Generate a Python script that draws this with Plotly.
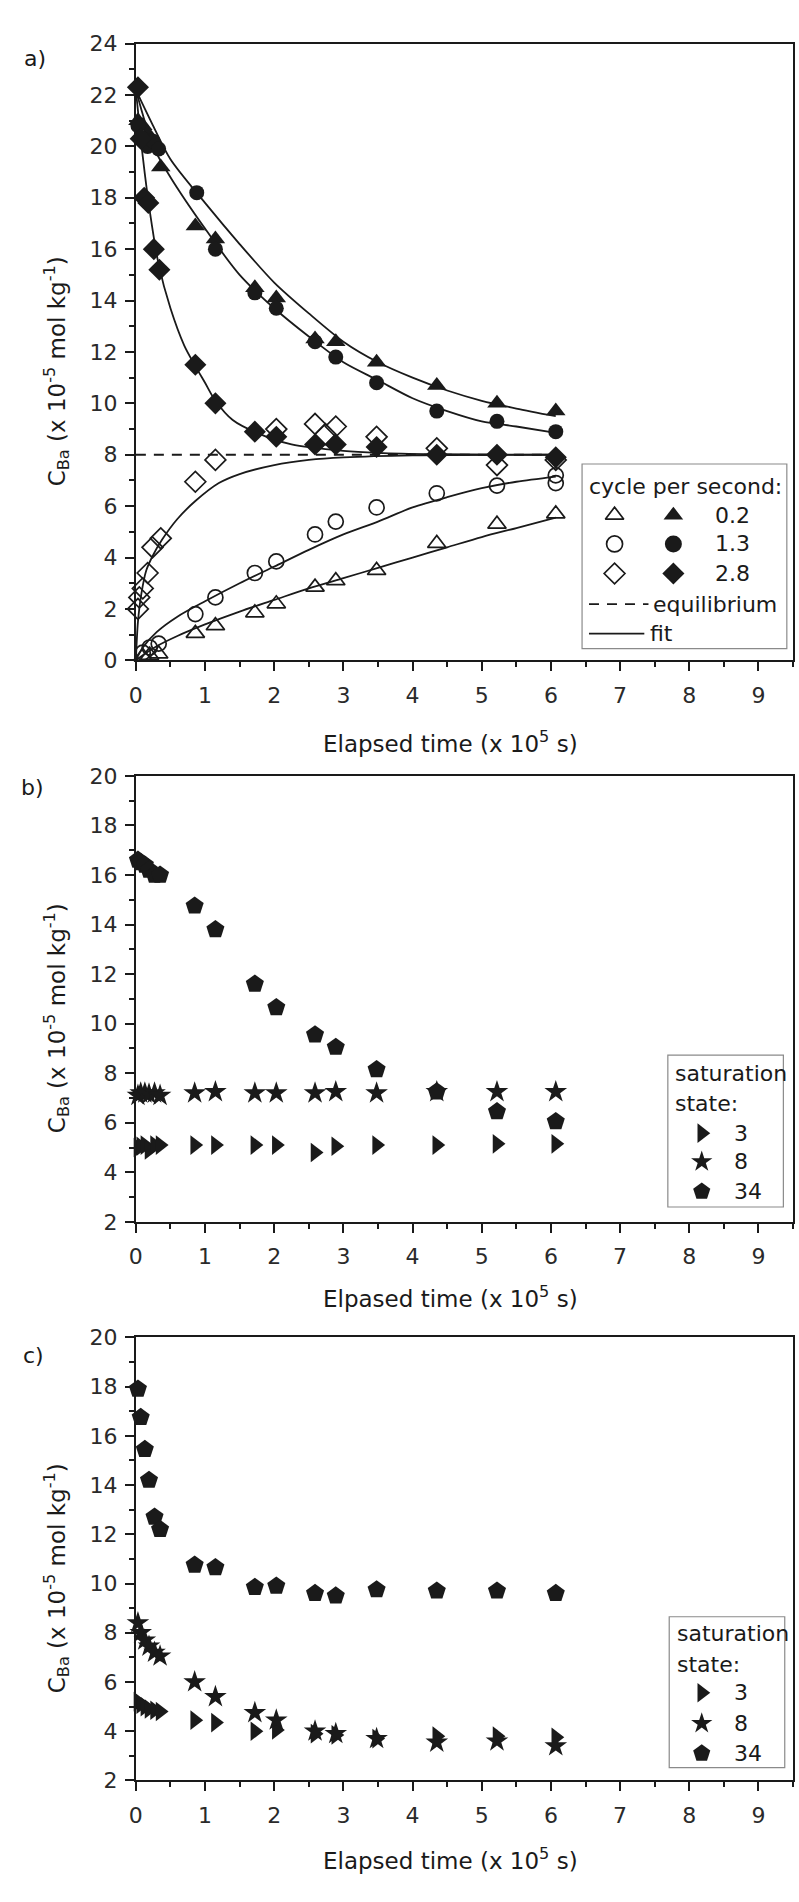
import plotly.graph_objects as go

W, H = 799, 1902
FONT = "DejaVu Sans"
INK = "#1a1a1a"

# ---------------- data: panel a ----------------
t_a_fill_tri = [0.03, 0.10, 0.17, 0.25, 0.36, 0.86, 1.15, 1.72, 2.03, 2.59, 2.89, 3.48, 4.35, 5.22, 6.07]
c_a_fill_tri = [21.0, 20.8, 20.5, 20.0, 19.2, 16.9, 16.4, 14.5, 14.1, 12.5, 12.4, 11.6, 10.7, 10.0, 9.7]
t_a_fill_cir = [0.03, 0.10, 0.17, 0.25, 0.33, 0.88, 1.15, 1.72, 2.03, 2.59, 2.89, 3.48, 4.35, 5.22, 6.07]
c_a_fill_cir = [20.8, 20.3, 20.0, 20.2, 19.9, 18.2, 16.0, 14.3, 13.7, 12.4, 11.8, 10.8, 9.7, 9.3, 8.9]
t_a_fill_dia = [0.03, 0.07, 0.12, 0.18, 0.26, 0.34, 0.86, 1.15, 1.72, 2.03, 2.59, 2.89, 3.48, 4.35, 5.22, 6.07]
c_a_fill_dia = [22.3, 20.3, 18.0, 17.8, 16.0, 15.2, 11.5, 10.0, 8.9, 8.7, 8.4, 8.4, 8.3, 8.0, 8.0, 7.9]

t_a_open_tri = [0.10, 0.20, 0.33, 0.86, 1.15, 1.72, 2.03, 2.59, 2.89, 3.48, 4.35, 5.22, 6.07]
c_a_open_tri = [0.15, 0.2, 0.25, 1.05, 1.35, 1.85, 2.2, 2.85, 3.1, 3.5, 4.55, 5.3, 5.7]
t_a_open_cir = [0.10, 0.20, 0.33, 0.86, 1.15, 1.72, 2.03, 2.59, 2.89, 3.48, 4.35, 5.22, 6.07, 6.07]
c_a_open_cir = [0.3, 0.5, 0.65, 1.8, 2.45, 3.4, 3.85, 4.9, 5.4, 5.95, 6.5, 6.8, 7.2, 6.9]
t_a_open_dia = [0.03, 0.05, 0.10, 0.17, 0.24, 0.36, 0.86, 1.15, 2.03, 2.59, 2.74, 2.89, 3.48, 4.35, 5.22, 6.07]
c_a_open_dia = [2.0, 2.45, 2.8, 3.4, 4.4, 4.75, 6.95, 7.8, 9.0, 9.2, 8.8, 9.1, 8.7, 8.25, 7.6, 7.8]

# fit curves
t_fit_slow = [0, 0.25, 0.5, 1, 1.5, 2, 2.5, 3, 3.5, 4, 4.5, 5, 5.5, 6.07]
c_fit_02_dec = [22.2, 20.8, 19.5, 17.8, 16.2, 14.7, 13.5, 12.4, 11.6, 11.0, 10.5, 10.1, 9.8, 9.5]
c_fit_13_dec = [22.2, 20.0, 18.8, 16.8, 15.0, 13.7, 12.6, 11.6, 10.9, 10.2, 9.7, 9.3, 9.1, 8.85]
t_fit_28_dec = [0, 0.1, 0.2, 0.33, 0.5, 0.7, 0.86, 1.0, 1.15, 1.4, 1.75, 2.25, 3.0, 3.5, 4.3, 6.07]
c_fit_28_dec = [22.2, 19.6, 17.5, 15.4, 13.7, 12.25, 11.45, 10.8, 10.1, 9.35, 8.85, 8.4, 8.15, 8.07, 8.02, 8.0]
t_fit_28_inc = [0, 0.03, 0.08, 0.15, 0.25, 0.38, 0.6, 0.86, 1.2, 1.5, 2.0, 2.5, 3.0, 4.0, 6.07]
c_fit_28_inc = [0, 1.5, 2.6, 3.5, 4.1, 4.7, 5.5, 6.2, 6.9, 7.25, 7.6, 7.8, 7.9, 7.98, 8.0]
t_fit_inc = [0, 0.1, 0.3, 0.6, 1.0, 1.5, 2.0, 2.5, 3.0, 3.5, 4.0, 4.5, 5.0, 5.5, 6.07]
c_fit_13_inc = [0, 0.5, 1.1, 1.7, 2.3, 3.0, 3.65, 4.3, 4.9, 5.4, 5.95, 6.35, 6.7, 6.95, 7.15]
c_fit_02_inc = [0, 0.2, 0.55, 0.95, 1.4, 1.9, 2.35, 2.8, 3.2, 3.6, 4.0, 4.4, 4.8, 5.15, 5.55]
t_equil = [0, 6.07]
c_equil = [8, 8]

# ---------------- data: panels b and c ----------------
t_bc = [0.03, 0.07, 0.13, 0.19, 0.27, 0.35, 0.85, 1.15, 1.72, 2.03, 2.59, 2.89, 3.48, 4.35, 5.22, 6.07]
b_sat3 = [5.0, 5.05, 5.1, 4.9, 5.1, 5.1, 5.1, 5.1, 5.1, 5.1, 4.8, 5.05, 5.1, 5.1, 5.15, 5.15]
b_sat8 = [7.1, 7.2, 7.2, 7.15, 7.2, 7.1, 7.2, 7.25, 7.2, 7.2, 7.2, 7.25, 7.2, 7.25, 7.25, 7.25]
b_sat34 = [16.6, 16.5, 16.4, 16.2, 16.0, 16.0, 14.75, 13.8, 11.6, 10.65, 9.55, 9.05, 8.15, 7.25, 6.45, 6.05]
c_sat3 = [5.2, 5.1, 5.0, 4.9, 4.85, 4.8, 4.45, 4.35, 4.0, 4.05, 3.9, 3.85, 3.7, 3.8, 3.8, 3.75]
c_sat8 = [8.4, 8.0, 7.7, 7.45, 7.2, 7.05, 6.0, 5.4, 4.75, 4.45, 4.0, 3.9, 3.7, 3.55, 3.6, 3.4]
c_sat34 = [17.9, 16.75, 15.45, 14.2, 12.7, 12.2, 10.75, 10.65, 9.85, 9.9, 9.6, 9.5, 9.75, 9.7, 9.7, 9.6]

freq_labels = ["0.2", "1.3", "2.8"]
sat_labels = ["3", "8", "34"]

# ---------------- layout geometry (pixels) ----------------
X_L, X_R = 130, 793
A_TOP, A_BOT = 32, 657
B_TOP, B_BOT = 774, 1226
C_TOP, C_BOT = 1343, 1792

def ydom(top, bot):
    return [1 - bot / H, 1 - top / H]

fig = go.Figure()

def line_tr(t, c, ax, dash="solid"):
    fig.add_trace(go.Scatter(x=t, y=c, mode="lines", xaxis=ax[0], yaxis=ax[1],
                             line=dict(color=INK, width=1.8, dash=dash, shape="spline", smoothing=0.8),
                             showlegend=False, hoverinfo="skip"))

def mark_tr(t, c, ax, symbol, size, open_=False):
    fig.add_trace(go.Scatter(x=t, y=c, mode="markers", xaxis=ax[0], yaxis=ax[1],
                             marker=dict(symbol=symbol, size=size, color=INK,
                                         line=dict(color=INK, width=1.7 if open_ else 0)),
                             cliponaxis=False, showlegend=False))

A = ("x", "y")
B = ("x2", "y2")
C = ("x3", "y3")

# panel a
line_tr(t_equil, c_equil, A, dash="10px,8px")
for cc in (c_fit_02_dec, c_fit_13_dec):
    line_tr(t_fit_slow, cc, A)
line_tr(t_fit_28_dec, c_fit_28_dec, A)
line_tr(t_fit_28_inc, c_fit_28_inc, A)
line_tr(t_fit_inc, c_fit_13_inc, A)
line_tr(t_fit_inc, c_fit_02_inc, A)
mark_tr(t_a_open_tri, c_a_open_tri, A, "triangle-up-open", 16, True)
mark_tr(t_a_open_cir, c_a_open_cir, A, "circle-open", 15, True)
mark_tr(t_a_open_dia, c_a_open_dia, A, "diamond-open", 16, True)
mark_tr(t_a_fill_tri, c_a_fill_tri, A, "triangle-up", 17)
mark_tr(t_a_fill_cir, c_a_fill_cir, A, "circle", 15)
mark_tr(t_a_fill_dia, c_a_fill_dia, A, "diamond", 17)

# panel b
mark_tr(t_bc, b_sat3, B, "triangle-right", 17)
mark_tr(t_bc, b_sat8, B, "star", 17)
mark_tr(t_bc, b_sat34, B, "pentagon", 19)
# panel c
mark_tr(t_bc, c_sat3, C, "triangle-right", 17)
mark_tr(t_bc, c_sat8, C, "star", 17)
mark_tr(t_bc, c_sat34, C, "pentagon", 19)

tickfont = dict(family=FONT, size=22, color="#2a2a2a")

def xaxis_cfg(anchor):
    return dict(domain=[X_L / W, X_R / W], range=[0, 9.5], anchor=anchor,
                tickmode="linear", tick0=0, dtick=1,
                ticks="outside", ticklen=9, tickwidth=2, tickcolor=INK,
                showline=True, linewidth=2, linecolor=INK, mirror=True,
                showgrid=False, zeroline=False, tickfont=tickfont, ticklabelstandoff=5,
                minor=dict(ticks="outside", ticklen=5, tickwidth=2, tickcolor=INK, dtick=0.5, showgrid=False),
                fixedrange=True)

def yaxis_cfg(anchor, rng, top, bot):
    return dict(domain=ydom(top, bot), range=rng, anchor=anchor,
                tickmode="linear", tick0=0, dtick=2,
                ticks="outside", ticklen=9, tickwidth=2, tickcolor=INK,
                showline=True, linewidth=2, linecolor=INK, mirror=True,
                showgrid=False, zeroline=False, tickfont=tickfont, ticklabelstandoff=3,
                minor=dict(ticks="outside", ticklen=5, tickwidth=2, tickcolor=INK, dtick=1, showgrid=False),
                fixedrange=True)

fig.update_layout(
    width=W, height=H, margin=dict(l=0, r=0, t=0, b=0),
    paper_bgcolor="white", plot_bgcolor="rgba(0,0,0,0)", showlegend=False,
    xaxis=xaxis_cfg("y"), yaxis=yaxis_cfg("x", [0, 24], A_TOP, A_BOT),
    xaxis2=xaxis_cfg("y2"), yaxis2=yaxis_cfg("x2", [2, 20], B_TOP, B_BOT),
    xaxis3=xaxis_cfg("y3"), yaxis3=yaxis_cfg("x3", [2, 20], C_TOP, C_BOT),
)

ann = []
shapes = []

def txt_px(x, y, s, size=22, xanchor="center", angle=0):
    ann.append(dict(x=x / W, y=1 - y / H, xref="paper", yref="paper", text=s, showarrow=False,
                    font=dict(family=FONT, size=size, color=INK), xanchor=xanchor, yanchor="middle",
                    textangle=angle))

def txt_d(ax, x, y, s, size=22, xanchor="center"):
    ann.append(dict(x=x, y=y, xref=ax[0], yref=ax[1], text=s, showarrow=False,
                    font=dict(family=FONT, size=size, color=INK), xanchor=xanchor, yanchor="middle"))

ytitle = "C<sub>Ba</sub> (x 10<sup>-5</sup> mol kg<sup>-1</sup>)"
txt_px(28, A_TOP + 15, "a)")
txt_px(26, B_TOP + 12, "b)")
txt_px(27, C_TOP + 18, "c)")
txt_px(447, A_BOT + 83, "Elapsed time (x 10<sup>5</sup> s)", size=23)
txt_px(447, B_BOT + 76, "Elpased time (x 10<sup>5</sup> s)", size=23)
txt_px(447, C_BOT + 80, "Elapsed time (x 10<sup>5</sup> s)", size=23)
for top, bot in ((A_TOP, A_BOT), (B_TOP, B_BOT), (C_TOP, C_BOT)):
    txt_px(50, (top + bot) / 2 + 20, ytitle, size=23, angle=-90)

def rect_d(ax, x0, x1, y0, y1):
    shapes.append(dict(type="rect", xref=ax[0], yref=ax[1], x0=x0, x1=x1, y0=y0, y1=y1,
                       line=dict(color="#8a8a8a", width=1.2), fillcolor="rgba(0,0,0,0)"))

def hline_d(ax, x0, x1, y, dash="solid"):
    shapes.append(dict(type="line", xref=ax[0], yref=ax[1], x0=x0, x1=x1, y0=y, y1=y,
                       line=dict(color=INK, width=1.8, dash=dash)))

def key(ax, x, y, symbol, size, open_=False):
    fig.add_trace(go.Scatter(x=[x], y=[y], xaxis=ax[0], yaxis=ax[1], mode="markers",
                             marker=dict(symbol=symbol, size=size, color=INK,
                                         line=dict(color=INK, width=1.7 if open_ else 0)),
                             cliponaxis=False, showlegend=False, hoverinfo="skip"))

# legend a (panel-a data coordinates)
rect_d(A, 6.45, 9.41, 0.46, 7.64)
txt_d(A, 7.94, 6.76, "cycle per second:")
rows_a = [5.65, 4.53, 3.38]
open_syms = ["triangle-up-open", "circle-open", "diamond-open"]
fill_syms = ["triangle-up", "circle", "diamond"]
for yy, lab, so, sf in zip(rows_a, freq_labels, open_syms, fill_syms):
    key(A, 6.92, yy, so, 16, True)
    key(A, 7.77, yy, sf, 17)
    txt_d(A, 8.62, yy, lab)
hline_d(A, 6.55, 7.41, 2.19, dash="10px,8px")
txt_d(A, 7.45, 2.19, "equilibrium", xanchor="left")
hline_d(A, 6.55, 7.35, 1.04)
txt_d(A, 7.41, 1.04, "fit", xanchor="left")

# legends b and c
sat_syms = ["triangle-right", "star", "pentagon"]
sat_sizes = [17, 16, 18]
for ax, box, rows in ((B, (7.69, 9.36, 2.6, 8.73), (7.97, 6.78, 5.58, 4.43, 3.23)),
                      (C, (7.71, 9.38, 2.52, 8.65), (7.95, 6.73, 5.56, 4.32, 3.1))):
    rect_d(ax, *box)
    txt_d(ax, box[0] + 0.08, rows[0], "saturation", xanchor="left")
    txt_d(ax, box[0] + 0.08, rows[1], "state:", xanchor="left")
    for yy, lab, s, sz in zip(rows[2:], sat_labels, sat_syms, sat_sizes):
        key(ax, 8.18, yy, s, sz)
        txt_d(ax, 8.62, yy, lab, xanchor="left")

fig.update_layout(annotations=ann, shapes=shapes)
fig.write_html("out.html")
